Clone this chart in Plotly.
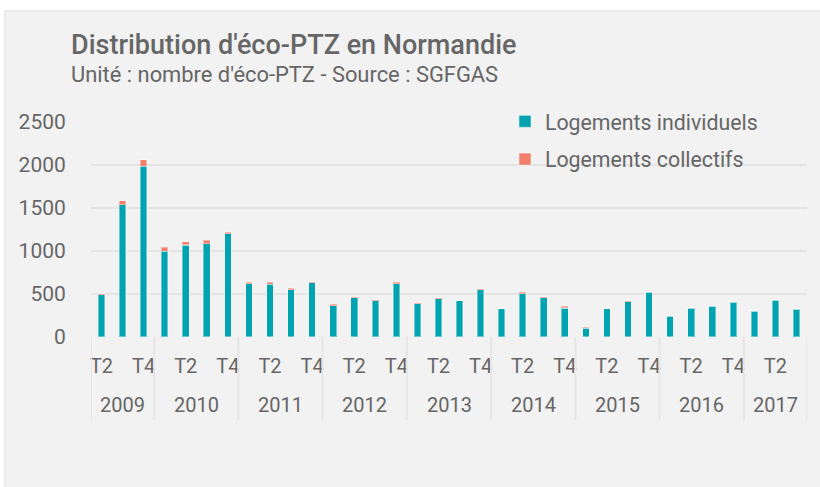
import plotly.graph_objects as go

years = ["2009", "2010", "2011", "2012", "2013", "2014", "2015", "2016", "2017"]
quarters_per_year = [["T2", "T3", "T4"]] + [["T1", "T2", "T3", "T4"]] * 7 + [["T1", "T2", "T3"]]
individuels = [490, 1540, 1985,
               995, 1070, 1085, 1200,
               620, 615, 550, 630,
               365, 455, 422, 620,
               385, 445, 422, 550,
               327, 505, 455, 338,
               105, 329, 411, 519,
               240, 337, 356, 403,
               302, 426, 326]
collectifs = [15, 45, 75,
              50, 40, 40, 20,
              20, 20, 20, 5,
              15, 8, 3, 15,
              12, 12, 2, 7,
              3, 15, 15, 20,
              12, 2, 7, 3,
              3, 3, 2, 6,
              0, 6, 3]
shown_quarters = ["T2", "T4"]

COL_IND = "#00a4b0"
COL_COL = "#f17f6c"
TXT = "#666666"
GRID = "#e4e4e4"
FONT = "Roboto"

quarters = [q for qs in quarters_per_year for q in qs]
x = list(range(len(quarters)))

fig = go.Figure()
fig.add_bar(x=x, y=individuels, name="Logements individuels", marker_color=COL_IND,
            marker_line=dict(color="rgba(255,255,255,0.4)", width=1.2), legendgroup="a")
fig.add_bar(x=x, y=collectifs, name="Logements collectifs", marker_color=COL_COL,
            marker_line=dict(color="rgba(255,255,255,0.4)", width=1.2), legendgroup="b")

# plot area geometry (pixels)
L, R, T, B = 91, 13, 122, 150
W, H = 820, 487
pw, ph = W - L - R, H - T - B

def px_x(p):
    return (p - L) / pw

def px_y(p):
    return (H - B - p) / ph

shapes = []
# panel background
shapes.append(dict(type="rect", xref="paper", yref="paper", x0=px_x(5), x1=px_x(830),
                   y0=px_y(500), y1=px_y(11), fillcolor="#f2f2f2",
                   line=dict(color="#e6e6e6", width=1.5), layer="below"))

annotations = []
tickvals, ticktext = [], []
start = 0
boundaries = [-0.5]
for yr, qs in zip(years, quarters_per_year):
    n = len(qs)
    for i, q in enumerate(qs):
        if q in shown_quarters:
            tickvals.append(start + i)
            ticktext.append(q)
    center = start + (n - 1) / 2
    annotations.append(dict(x=center, xref="x", y=px_y(405), yref="paper", text=yr,
                            showarrow=False, font=dict(family=FONT, size=20, color=TXT),
                            xanchor="center", yanchor="middle"))
    start += n
    boundaries.append(start - 0.5)

for b in boundaries:
    shapes.append(dict(type="line", xref="x", yref="paper", x0=b, x1=b,
                       y0=px_y(337), y1=px_y(420), line=dict(color="#e6e6e6", width=2)))

annotations.append(dict(x=px_x(69), y=px_y(45), xref="paper", yref="paper",
                        text="Distribution d'éco-PTZ en Normandie", showarrow=False,
                        xanchor="left", yanchor="middle",
                        font=dict(family=FONT, size=27, color=TXT, weight=500)))
annotations.append(dict(x=px_x(69), y=px_y(74), xref="paper", yref="paper",
                        text="Unité : nombre d'éco-PTZ - Source : SGFGAS", showarrow=False,
                        xanchor="left", yanchor="middle",
                        font=dict(family=FONT, size=21.9, color=TXT)))

fig.update_layout(
    width=W, height=H,
    margin=dict(l=L, r=R, t=T, b=B, pad=0),
    paper_bgcolor="white",
    plot_bgcolor="rgba(0,0,0,0)",
    barmode="stack",
    bargap=0.68,
    font=dict(family=FONT, size=20, color=TXT),
    shapes=shapes,
    annotations=annotations,
    showlegend=True,
    legend=dict(x=px_x(505), y=px_y(101), xanchor="left", yanchor="top",
                traceorder="grouped", tracegroupgap=7, itemwidth=30,
                font=dict(family=FONT, size=21.3, color=TXT),
                bgcolor="rgba(0,0,0,0)"),
    xaxis=dict(range=[-0.5, len(quarters) - 0.5], tickmode="array", tickvals=tickvals,
               ticktext=ticktext, ticks="outside", ticklen=11, tickcolor="rgba(0,0,0,0)",
               showgrid=False, zeroline=False, showline=False,
               tickfont=dict(family=FONT, size=20, color=TXT)),
    yaxis=dict(range=[0, 2500], tickvals=[0, 500, 1000, 1500, 2000, 2500],
               showgrid=True, gridcolor=GRID, gridwidth=2, zeroline=False,
               ticks="outside", ticklen=20, tickcolor="rgba(0,0,0,0)",
               tickfont=dict(family=FONT, size=21, color=TXT)),
)

fig.write_html("out.html", config={"displayModeBar": False},
               post_script="document.body.style.margin='0px';document.body.style.overflow='hidden';")
